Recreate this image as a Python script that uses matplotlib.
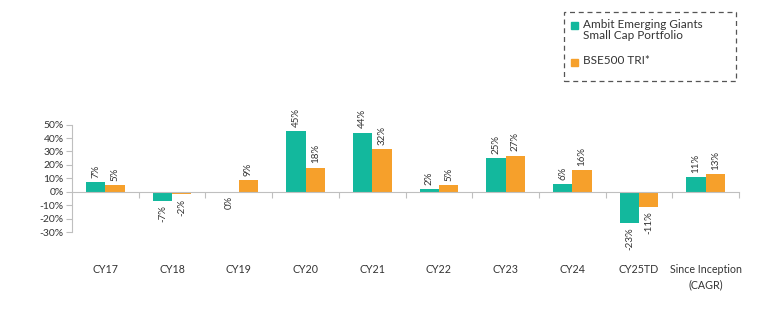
import matplotlib.pyplot as plt
import numpy as np
from matplotlib.patches import Rectangle

# Calendar-year returns (%)
categories = ["CY17", "CY18", "CY19", "CY20", "CY21", "CY22",
              "CY23", "CY24", "CY25TD", "Since Inception\n(CAGR)"]
portfolio = [7, -7, 0, 45, 44, 2, 25, 6, -23, 11]
benchmark = [5, -2, 9, 18, 32, 5, 27, 16, -11, 13]
series_names = ["Ambit Emerging Giants\nSmall Cap Portfolio", "BSE500 TRI*"]

TEAL = "#13B89D"
ORANGE = "#F6A02B"
GREY = "#BFBFBF"
TEXT = "#333333"

plt.rcParams["font.family"] = ["Lato", "DejaVu Sans"]

W, H = 762, 334
fig = plt.figure(figsize=(W / 100, H / 100), dpi=100)
ax = fig.add_axes([0.0945, 0.305, 0.8755, 0.322])

x = np.arange(len(categories))
w = 0.29
bars1 = ax.bar(x - w / 2, portfolio, w, color=TEAL, zorder=2)
bars2 = ax.bar(x + w / 2, benchmark, w, color=ORANGE, zorder=2)

# value labels, rotated
for bars, vals in [(bars1, portfolio), (bars2, benchmark)]:
    for b, v in zip(bars, vals):
        cx = b.get_x() + b.get_width() / 2
        if v > 0:
            ax.annotate(f"{v}%", (cx, v), xytext=(0, 3), textcoords="offset points",
                        rotation=90, ha="center", va="bottom", fontsize=7, color=TEXT)
        else:
            ax.annotate(f"{v}%", (cx, v), xytext=(0, -3), textcoords="offset points",
                        rotation=90, ha="center", va="top", fontsize=7, color=TEXT)

ax.set_xlim(-0.5, len(categories) - 0.5)
ax.set_ylim(-30, 50)
ax.set_yticks(range(-30, 51, 10))
ax.set_yticklabels([f"{t}%" for t in range(-30, 51, 10)], fontsize=7.5, color=TEXT)

# category boundary ticks on the zero line
ax.set_xticks(np.arange(0.5, len(categories), 1))
ax.set_xticklabels([])
ax.tick_params(axis="x", length=4, color=GREY, direction="out")
ax.tick_params(axis="y", length=4, color=GREY, pad=2)

for i, c in enumerate(categories):
    ax.text(i, -54, c, ha="center", va="top", fontsize=7.7, color=TEXT,
            linespacing=1.45, clip_on=False)

for s in ["top", "right"]:
    ax.spines[s].set_visible(False)
ax.spines["left"].set_color(GREY)
ax.spines["bottom"].set_position(("data", 0))
ax.spines["bottom"].set_color(GREY)

# legend box (dashed), drawn in figure pixels
fig.add_artist(Rectangle((564 / W, 1 - 81 / H), 172 / W, 69 / H, transform=fig.transFigure,
                         fill=False, edgecolor="#555555", linewidth=0.9,
                         linestyle=(0, (4, 3))))
legend_rows = [(25, TEAL, series_names[0]), (62, ORANGE, series_names[1])]
for yc, col, name in legend_rows:
    fig.add_artist(Rectangle((571 / W, 1 - (yc + 3.5) / H), 7 / W, 7 / H,
                             transform=fig.transFigure, color=col))
    fig.text(583 / W, 1 - (yc - 6.5) / H, name, ha="left", va="top", fontsize=8.5,
             color=TEXT, linespacing=1.05)

fig.savefig("out.png", dpi=100)
